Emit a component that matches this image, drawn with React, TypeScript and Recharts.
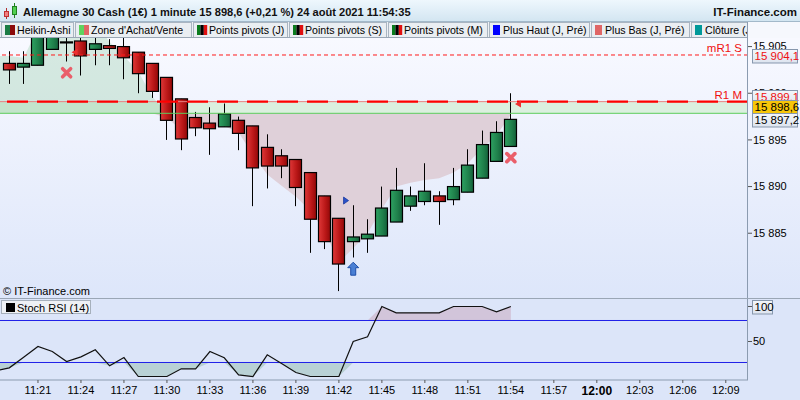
import React from "react";
import {
  Area,
  Bar,
  ComposedChart,
  Line,
  ReferenceArea,
  ReferenceLine,
  Scatter,
  XAxis,
  YAxis,
} from "recharts";

const FONT = "'Liberation Sans', Arial, sans-serif";

// minutes after 11:00, one Heikin-Ashi candle per minute
const CANDLE_MINUTES = [
  19, 20, 21, 22, 23, 24, 25, 26, 27, 28, 29, 30, 31, 32, 33, 34, 35, 36,
  37, 38, 39, 40, 41, 42, 43, 44, 45, 46, 47, 48, 49, 50, 51, 52, 53, 54,
];
const OPEN = [
  15903.2, 15902.8, 15903.0, 15904.7, 15905.5, 15905.6, 15904.7, 15905.1, 15905.0,
  15904.4, 15903.2, 15901.7, 15899.4, 15897.4, 15896.8, 15896.4, 15897.1, 15896.5,
  15894.2, 15893.3, 15892.9, 15891.5, 15889.0, 15886.6, 15884.1, 15884.4, 15884.7,
  15886.2, 15887.9, 15888.4, 15889.0, 15888.6, 15889.4, 15890.9, 15892.7, 15894.3,
];
const HIGH = [
  15904.5, 15904.5, 15907.2, 15907.0, 15906.8, 15906.6, 15906.4, 15905.8, 15906.0,
  15904.4, 15903.2, 15901.7, 15899.4, 15898.0, 15898.5, 15898.9, 15897.5, 15896.5,
  15895.6, 15894.0, 15892.9, 15891.5, 15889.0, 15886.6, 15888.0, 15886.5, 15890.0,
  15892.0, 15890.0, 15892.5, 15889.5, 15892.0, 15894.0, 15896.0, 15897.0, 15900.0,
];
const LOW = [
  15901.0, 15901.0, 15903.0, 15904.7, 15903.4, 15901.9, 15903.0, 15903.0, 15901.5,
  15900.0, 15899.5, 15895.0, 15893.9, 15895.4, 15893.4, 15896.4, 15893.9, 15887.9,
  15889.8, 15890.9, 15887.9, 15882.9, 15883.3, 15878.8, 15882.4, 15882.9, 15884.7,
  15886.2, 15887.4, 15888.0, 15885.9, 15888.0, 15889.4, 15890.9, 15892.7, 15894.3,
];
const CLOSE = [
  15902.5, 15903.2, 15906.8, 15906.6, 15905.5, 15904.0, 15905.3, 15904.8, 15903.8,
  15902.1, 15900.2, 15897.1, 15895.1, 15896.3, 15896.2, 15897.8, 15895.7, 15892.0,
  15892.2, 15892.2, 15889.9, 15886.5, 15884.1, 15881.7, 15884.6, 15884.9, 15887.7,
  15889.6, 15889.0, 15889.5, 15888.4, 15890.0, 15892.3, 15894.5, 15895.8, 15897.2,
];

// buy / sell zone (Zone d'Achat/Vente)
const ZONE_BAND_LOW = 15897.85;
const ZONE_BAND_HIGH = 15899.1;
const BUY_ZONE_MINUTES = [18, 19, 20, 21, 22, 23, 24, 25, 26, 27, 28, 29, 30];
const BUY_ZONE_TOP = [
  15904.0, 15904.0, 15903.8, 15907.0, 15908.5, 15908.5, 15908.5, 15907.5, 15905.5,
  15904.0, 15902.3, 15899.6, 15897.85,
];
const SELL_ZONE_MINUTES = [
  29, 30, 31, 32, 33, 34, 35, 36, 37, 38, 39, 40, 41, 42, 43, 44, 45, 46, 47, 48,
  49, 50, 51, 52, 53, 54,
];
const SELL_ZONE_BOTTOM = [
  15897.85, 15897.35, 15896.1, 15896.2, 15896.4, 15896.5, 15895.8, 15893.4, 15891.3,
  15890.1, 15888.9, 15887.4, 15885.2, 15881.9, 15883.4, 15885.0, 15887.6, 15890.0,
  15890.4, 15890.7, 15890.9, 15891.5, 15892.5, 15894.1, 15895.5, 15897.7,
];

// pivots and axis tags
const PIVOT_MR1_S = 15904.1;
const PIVOT_R1_M = 15899.1;
const LAST_PRICE = 15898.6;
const LAST_HA_CLOSE = 15897.2;
const LAST_STOCH = 100;

// signals
const SELL_SIGNALS = [
  { t: 23, v: 15902.2 },
  { t: 54, v: 15893.1 },
];
const BUY_SIGNALS = [{ t: 43, v: 15881.2 }];
const BLUE_MARKS = [{ t: 42.5, v: 15888.5 }];
const RED_MARKS = [
  { t: 23.55, v: 15904.4 },
  { t: 54.5, v: 15898.85 },
];

// Stoch RSI (14)
const STOCH_MINUTES = [
  18, 19, 20, 21, 22, 23, 24, 25, 26, 27, 28, 29, 30, 31, 32, 33, 34, 35, 36, 37,
  38, 39, 40, 41, 42, 43, 44, 45, 46, 47, 48, 49, 50, 51, 52, 53, 54,
];
const STOCH = [
  8, 12.4, 27.6, 42.9, 35.7, 21.4, 28.1, 38.1, 15.3, 27.1, 0, 0, 0, 11, 11, 35.7,
  26.7, 2.4, 0, 31, 18.6, 5.7, 0, 0, 0, 50, 56.7, 100, 91, 91, 91, 91, 100, 100,
  100, 92.4, 100,
];
const STOCH_HIGH = 80;
const STOCH_LOW = 20;

const TIME_TICKS = [21, 24, 27, 30, 33, 36, 39, 42, 45, 48, 51, 54, 57, 60, 63, 66, 69];
const PRICE_TICKS = [15885, 15890, 15895, 15900, 15905];
const STOCH_TICKS = [50, 100];

const X_DOMAIN: [number, number] = [18.35, 70.55];
const PRICE_DOMAIN: [number, number] = [15878.06, 15905.92];
const STOCH_DOMAIN: [number, number] = [-5.0, 112.14];

const MAIN_TOP = 38;
const MAIN_H = 260;
const STOCH_TOP = 298;
const STOCH_PLOT_H = 82;

const LEGEND = [
  { label: "Heikin-Ashi", x: 1, w: 72, colors: ["#1b7c44", "#8c0a0a"] },
  { label: "Zone d'Achat/Vente", x: 75, w: 116, colors: ["#5fd35f", "#e06666"] },
  { label: "Points pivots (J)", x: 193, w: 94, colors: ["#0b7d1e", "#000000", "#e01010"] },
  { label: "Points pivots (S)", x: 289, w: 97, colors: ["#0b7d1e", "#000000", "#e01010"] },
  { label: "Points pivots (M)", x: 388, w: 99, colors: ["#0b7d1e", "#000000", "#e01010"] },
  { label: "Plus Haut (J, Pré)", x: 489, w: 100, colors: ["#0000ff"] },
  { label: "Plus Bas (J, Pré)", x: 591, w: 98, colors: ["#e06666"] },
  { label: "Clôture (J, Pré)", x: 691, w: 60, colors: ["#009999"] },
];

const fmtPrice = (v: number) => {
  const s = v.toFixed(0);
  return s.slice(0, 2) + " " + s.slice(2);
};
const fmtTag = (v: number) => fmtPrice(Math.floor(v)) + "," + Math.round((v % 1) * 10);
const fmtTime = (m: number) => {
  const h = 11 + Math.floor(m / 60);
  const mm = m % 60;
  return `${h}:${mm < 10 ? "0" : ""}${mm}`;
};

// same linear mapping the charts use, for the axis tags drawn on top
const priceY = (v: number) =>
  MAIN_TOP + ((PRICE_DOMAIN[1] - v) / (PRICE_DOMAIN[1] - PRICE_DOMAIN[0])) * MAIN_H;
const stochY = (v: number) =>
  STOCH_TOP + ((STOCH_DOMAIN[1] - v) / (STOCH_DOMAIN[1] - STOCH_DOMAIN[0])) * STOCH_PLOT_H;

const byMinute = new Map<number, any>();
const row = (t: number) => {
  if (!byMinute.has(t)) byMinute.set(t, { t });
  return byMinute.get(t);
};
CANDLE_MINUTES.forEach((t, i) => {
  Object.assign(row(t), {
    open: OPEN[i],
    high: HIGH[i],
    low: LOW[i],
    close: CLOSE[i],
    range: [LOW[i], HIGH[i]],
  });
});
BUY_ZONE_MINUTES.forEach((t, i) => {
  row(t).buy = [ZONE_BAND_LOW, BUY_ZONE_TOP[i]];
});
SELL_ZONE_MINUTES.forEach((t, i) => {
  row(t).sell = [SELL_ZONE_BOTTOM[i], ZONE_BAND_LOW];
});
const priceData = [...byMinute.values()].sort((a, b) => a.t - b.t);

const stochData = STOCH_MINUTES.map((t, i) => ({
  t,
  k: STOCH[i],
  lowFill: [Math.min(STOCH[i], STOCH_LOW), STOCH_LOW],
  highFill: [STOCH_HIGH, Math.max(STOCH[i], STOCH_HIGH)],
}));

const BODY_W = 13;

function CandleShape(props: any) {
  const { x, y, width, height, payload } = props;
  if (!payload || payload.open == null) return null;
  const { open, high, low, close } = payload;
  const span = high - low;
  const toY = (v: number) => (span > 0 ? y + ((high - v) / span) * height : y);
  const left = Math.round(x + width / 2 - BODY_W / 2);
  const cx = left + 6.5;
  const up = close >= open;
  const top = toY(Math.max(open, close));
  const bot = toY(Math.min(open, close));
  return (
    <g>
      <line x1={cx} x2={cx} y1={toY(high)} y2={toY(low)} stroke="#000" strokeWidth={1} />
      <rect
        x={left + 0.5}
        y={top}
        width={BODY_W - 1}
        height={Math.max(bot - top, 1)}
        fill={up ? "url(#haUp)" : "url(#haDown)"}
        stroke="#000"
        strokeWidth={1.2}
      />
    </g>
  );
}

const SellCross = ({ cx, cy }: any) => (
  <path
    d={`M${cx - 4},${cy - 4}L${cx + 4},${cy + 4}M${cx - 4},${cy + 4}L${cx + 4},${cy - 4}`}
    stroke="#ea5f6a"
    strokeWidth={3.6}
    strokeLinecap="round"
  />
);

const BuyArrow = ({ cx, cy }: any) => (
  <polygon
    points={`${cx},${cy - 6.5} ${cx + 5.5},${cy - 1} ${cx + 2.5},${cy - 1} ${cx + 2.5},${cy + 6.5} ${cx - 2.5},${cy + 6.5} ${cx - 2.5},${cy - 1} ${cx - 5.5},${cy - 1}`}
    fill="#4a7fd4"
    stroke="#1f4fa8"
    strokeWidth={1}
  />
);

const BlueMark = ({ cx, cy }: any) => (
  <polygon
    points={`${cx - 2.5},${cy - 3.5} ${cx + 2.5},${cy} ${cx - 2.5},${cy + 3.5}`}
    fill="#2a52c8"
    stroke="#1a3aa0"
    strokeWidth={0.8}
  />
);

const RedMark = ({ cx, cy }: any) => (
  <polygon
    points={`${cx + 3},${cy - 3.5} ${cx - 3},${cy} ${cx + 3},${cy + 3.5}`}
    fill="#ee3030"
  />
);

function LineTag({ viewBox, text }: any) {
  if (!viewBox) return null;
  return (
    <text
      x={viewBox.x + viewBox.width - 6}
      y={viewBox.y - 2.5}
      textAnchor="end"
      fill="#f01010"
      fontSize={11.5}
      fontFamily={FONT}
    >
      {text}
    </text>
  );
}

function AxisTag({ y, text, color = "#000", fill = "url(#tagBg)", w = 45 }: any) {
  const top = Math.round(y - 6.4) + 0.5;
  return (
    <g>
      <rect x={752.5} y={top} width={w} height={13.5} fill={fill} stroke="#8797ad" strokeWidth={1} />
      <text x={754.5} y={top + 10.5} fill={color} fontSize={11.5} fontFamily={FONT}>
        {text}
      </text>
    </g>
  );
}

function TimeTick({ x, y, payload }: any) {
  const v = payload.value;
  const bold = v === 60;
  return (
    <text
      x={x}
      y={y}
      dy="0.71em"
      textAnchor="middle"
      fill="#000"
      fontSize={bold ? 12 : 11}
      fontWeight={bold ? 700 : 400}
      fontFamily={FONT}
    >
      {fmtTime(v)}
    </text>
  );
}

function Overlay() {
  return (
    <svg width={800} height={400} style={{ position: "absolute", left: 0, top: 0, pointerEvents: "none" }}>
      <defs>
        <linearGradient id="titleBg" x1="0" y1="0" x2="0" y2="1">
          <stop offset="0" stopColor="#eef7fd" />
          <stop offset="1" stopColor="#d2e5f1" />
        </linearGradient>
        <clipPath id="legendClip">
          <rect x={0} y={22} width={747} height={16} />
        </clipPath>
      </defs>
      {/* title bar */}
      <rect x={0} y={0} width={800} height={22} fill="url(#titleBg)" />
      <line x1={0} x2={800} y1={21.5} y2={21.5} stroke="#a3b9ca" />
      <line x1={6.5} x2={6.5} y1={8} y2={19} stroke="#b03030" />
      <rect x={4.5} y={11.5} width={4} height={5} fill="#f08080" stroke="#c03030" />
      <line x1={14.5} x2={14.5} y1={3} y2={18} stroke="#208020" />
      <rect x={12.5} y={6.5} width={4} height={8} fill="#50d050" stroke="#208020" />
      <text x={23} y={16} fontSize={11.1} fontWeight={700} fontFamily={FONT} fill="#111">
        Allemagne 30 Cash (1€) 1 minute 15 898,6 (+0,21 %) 24 août 2021 11:54:35
      </text>
      <text x={797} y={16} textAnchor="end" fontSize={11.5} fontWeight={700} fontFamily={FONT} fill="#111">
        IT-Finance.com
      </text>
      {/* legend row */}
      <rect x={0} y={22} width={748} height={16} fill="#eef1f5" />
      <rect x={748} y={22} width={52} height={16} fill="#f6f8fd" />
      <g clipPath="url(#legendClip)">
        {LEGEND.map((b) => (
          <g key={b.label}>
            <rect x={b.x + 0.5} y={22.5} width={b.w} height={15} fill="#eaeef2" stroke="#a9b5c1" />
            {b.colors.map((c, i) => {
              const sw = b.colors.length === 3 ? 3.4 : b.colors.length === 2 ? 5 : 7;
              return <rect key={i} x={b.x + 4 + i * sw} y={25} width={sw} height={10} fill={c} />;
            })}
            <text
              x={b.x + (b.colors.length === 1 ? 14 : 16)}
              y={34}
              fontSize={10.6}
              fontFamily={FONT}
              fill="#000"
            >
              {b.label}
            </text>
          </g>
        ))}
      </g>
      <line x1={0} x2={748} y1={37.5} y2={37.5} stroke="#9aa7b5" />
      {/* frame lines */}
      <line x1={747.5} x2={747.5} y1={22} y2={380} stroke="#8b9bb0" />
      <line x1={0} x2={800} y1={298.5} y2={298.5} stroke="#9aa6b5" />
      <text x={3} y={295} fontSize={11} fontFamily={FONT} fill="#000">
        © IT-Finance.com
      </text>
      {/* axis tags */}
      <AxisTag y={priceY(PIVOT_MR1_S) + 0.5} text={fmtTag(PIVOT_MR1_S)} color="#f01010" />
      <AxisTag y={priceY(PIVOT_R1_M) - 5.5} text={fmtTag(PIVOT_R1_M)} color="#f01010" />
      <AxisTag y={priceY(LAST_PRICE)} text={fmtTag(LAST_PRICE)} fill="#f7c60a" />
      <AxisTag y={priceY(LAST_HA_CLOSE)} text={fmtTag(LAST_HA_CLOSE)} />
      <AxisTag y={stochY(LAST_STOCH)} text={String(LAST_STOCH)} w={20} />
      {/* Stoch legend */}
      <rect x={1.5} y={300.5} width={89} height={13} fill="#eef1f5" stroke="#a6b0bc" />
      <rect x={6} y={303} width={9} height={9} fill="#000" />
      <text x={17} y={311.5} fontSize={11} fontFamily={FONT} fill="#000">
        Stoch RSI (14)
      </text>
    </svg>
  );
}

export default function App() {
  return (
    <div
      style={{
        position: "fixed",
        left: 0,
        top: 0,
        width: 800,
        height: 400,
        overflow: "hidden",
        fontFamily: FONT,
        background: "#dce5f9",
      }}
    >
      <svg width={0} height={0} style={{ position: "absolute" }}>
        <defs>
          <linearGradient id="haDown" x1="0" y1="0" x2="1" y2="0">
            <stop offset="0" stopColor="#e03838" />
            <stop offset="0.6" stopColor="#b81616" />
            <stop offset="1" stopColor="#900808" />
          </linearGradient>
          <linearGradient id="haUp" x1="0" y1="0" x2="1" y2="0">
            <stop offset="0" stopColor="#2ea262" />
            <stop offset="0.6" stopColor="#1f7f4a" />
            <stop offset="1" stopColor="#13603a" />
          </linearGradient>
          <linearGradient id="tagBg" x1="0" y1="0" x2="0" y2="1">
            <stop offset="0" stopColor="#f3f6fb" />
            <stop offset="1" stopColor="#dde4ef" />
          </linearGradient>
        </defs>
      </svg>
      <div
        style={{
          position: "absolute",
          left: 0,
          top: MAIN_TOP,
          width: 800,
          height: MAIN_H,
          background: "linear-gradient(#f8f9ff, #dde6fa)",
        }}
      />
      <div style={{ position: "absolute", left: 0, top: MAIN_TOP }}>
        <ComposedChart width={800} height={MAIN_H} data={priceData} margin={{ top: 0, right: 0, bottom: 0, left: 0 }}>
          <XAxis dataKey="t" type="number" domain={X_DOMAIN} allowDataOverflow hide />
          <YAxis
            orientation="right"
            width={52}
            domain={PRICE_DOMAIN}
            allowDataOverflow
            ticks={PRICE_TICKS}
            tickFormatter={fmtPrice}
            axisLine={false}
            tickSize={4}
            tickMargin={1}
            tickLine={{ stroke: "#555" }}
            tick={{ fontSize: 11, fill: "#000", fontFamily: FONT }}
          />
          <ReferenceArea y1={ZONE_BAND_LOW} y2={ZONE_BAND_HIGH} fill="#dbf0df" fillOpacity={1} stroke="none" />
          <Area
            dataKey="buy"
            type="linear"
            stroke="none"
            fill="#92cca3"
            fillOpacity={0.33}
            isAnimationActive={false}
            dot={false}
            activeDot={false}
          />
          <Area
            dataKey="sell"
            type="linear"
            stroke="none"
            fill="#dfd0d9"
            fillOpacity={1}
            isAnimationActive={false}
            dot={false}
            activeDot={false}
          />
          <ReferenceLine y={ZONE_BAND_LOW} stroke="#5dcc5d" strokeWidth={1} />
          <ReferenceLine
            y={PIVOT_MR1_S}
            stroke="#ff1a1a"
            strokeWidth={1}
            strokeDasharray="4 3"
            label={<LineTag text="mR1 S" />}
          />
          <ReferenceLine y={PIVOT_R1_M} stroke="#e88080" strokeWidth={1} />
          <ReferenceLine
            y={PIVOT_R1_M}
            stroke="#ff0000"
            strokeWidth={2.2}
            strokeDasharray="21 9"
            label={<LineTag text="R1 M" />}
          />
          <Bar dataKey="range" shape={<CandleShape />} isAnimationActive={false} />
          <Scatter data={SELL_SIGNALS} dataKey="v" shape={<SellCross />} isAnimationActive={false} />
          <Scatter data={BUY_SIGNALS} dataKey="v" shape={<BuyArrow />} isAnimationActive={false} />
          <Scatter data={BLUE_MARKS} dataKey="v" shape={<BlueMark />} isAnimationActive={false} />
          <Scatter data={RED_MARKS} dataKey="v" shape={<RedMark />} isAnimationActive={false} />
        </ComposedChart>
      </div>
      <div style={{ position: "absolute", left: 0, top: STOCH_TOP }}>
        <ComposedChart width={800} height={STOCH_PLOT_H + 20} data={stochData} margin={{ top: 0, right: 0, bottom: 0, left: 0 }}>
          <XAxis
            dataKey="t"
            type="number"
            domain={X_DOMAIN}
            allowDataOverflow
            ticks={TIME_TICKS}
            height={20}
            axisLine={{ stroke: "#8b9bb0" }}
            tickLine={{ stroke: "#555" }}
            tickSize={3}
            tickMargin={3}
            tick={<TimeTick />}
            interval={0}
          />
          <YAxis
            orientation="right"
            width={52}
            domain={STOCH_DOMAIN}
            allowDataOverflow
            ticks={STOCH_TICKS}
            axisLine={false}
            tickSize={4}
            tickMargin={1}
            tickLine={{ stroke: "#555" }}
            tick={{ fontSize: 11, fill: "#000", fontFamily: FONT }}
          />
          <Area dataKey="lowFill" type="linear" stroke="none" fill="#b9d1d5" fillOpacity={1} isAnimationActive={false} dot={false} activeDot={false} />
          <Area dataKey="highFill" type="linear" stroke="none" fill="#d2c5da" fillOpacity={1} isAnimationActive={false} dot={false} activeDot={false} />
          <ReferenceLine y={STOCH_HIGH} stroke="#2020e8" strokeWidth={1} />
          <ReferenceLine y={STOCH_LOW} stroke="#2020e8" strokeWidth={1} />
          <Line dataKey="k" type="linear" stroke="#111" strokeWidth={1.2} dot={false} activeDot={false} isAnimationActive={false} />
        </ComposedChart>
      </div>
      <Overlay />
    </div>
  );
}
